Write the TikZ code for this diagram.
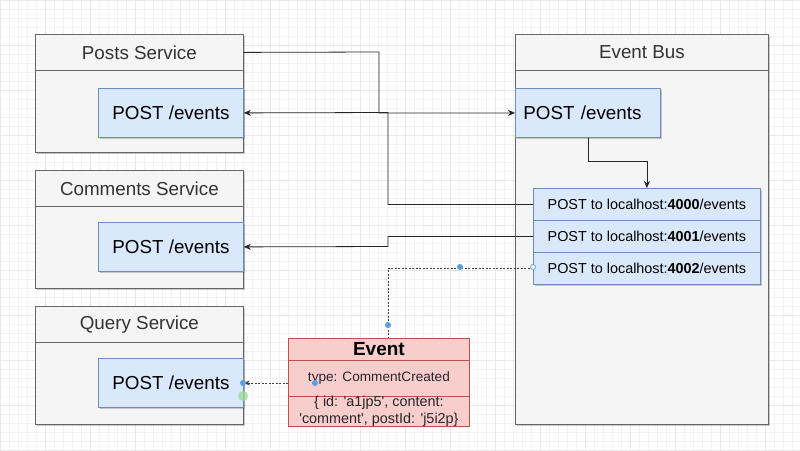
\documentclass[tikz,border=0pt]{standalone}
\usepackage{fontspec}
\setmainfont{Liberation Sans}
\usetikzlibrary{shadows,arrows.meta,calc}
\definecolor{outerfill}{HTML}{F5F5F5}
\definecolor{outerdraw}{HTML}{666666}
\definecolor{innerfill}{HTML}{DAE8FC}
\definecolor{innerdraw}{HTML}{6C8EBF}
\definecolor{evfill}{HTML}{F8CECC}
\definecolor{evdraw}{HTML}{B85450}
\definecolor{gridminor}{HTML}{F3F3F3}
\definecolor{gridmajor}{HTML}{E8E8E8}
\definecolor{selblue}{HTML}{5AA0E0}
\definecolor{selgreen}{HTML}{9ED99A}
\tikzset{
  shadowed/.style={drop shadow={shadow xshift=2pt, shadow yshift=-2pt, fill=black, opacity=0.2}},
  outerbox/.style={draw=outerdraw, fill=outerfill, line width=0.8pt, anchor=north west, inner sep=0pt, shadowed},
  headbox/.style={draw=outerdraw, fill=outerfill, line width=0.8pt, anchor=north west, inner sep=0pt,
     minimum height=36pt, font=\fontsize{18.8}{22}\selectfont, text=black!80},
  innerbox/.style={draw=innerdraw, fill=innerfill, line width=0.8pt, anchor=north west, inner sep=0pt,
     minimum width=145pt, minimum height=49pt, font=\fontsize{18.8}{22}\selectfont, shadowed},
  hostbox/.style={draw=innerdraw, fill=innerfill, line width=0.8pt, anchor=north west, inner sep=0pt,
     minimum width=227pt, minimum height=32pt, font=\fontsize{14.4}{17}\selectfont, shadowed},
  evbox/.style={draw=evdraw, fill=evfill, line width=0.8pt, anchor=north west, inner sep=0pt, minimum width=181pt},
  conn/.style={line width=0.8pt, draw=black!85},
  arr/.style={conn, -{Stealth[length=7pt,width=6pt]}},
  dashconn/.style={line width=0.7pt, draw=black!75, dash pattern=on 2pt off 1.5pt},
  bluedot/.style={circle, fill=selblue, inner sep=0pt, minimum size=6pt},
}
\begin{document}
\begin{tikzpicture}[x=1pt, y=-1pt]
\useasboundingbox (0,0) rectangle (800,450);
\fill[white] (0,0) rectangle (800,450);
% grid
\foreach \gx in {0,9,...,800} \draw[gridminor, line width=0.4pt] (\gx,0) -- (\gx,450);
\foreach \gy in {0,9,...,450} \draw[gridminor, line width=0.4pt] (0,\gy) -- (800,\gy);
\foreach \gx in {0,45,...,800} \draw[gridmajor, line width=0.5pt] (\gx,0) -- (\gx,450);
\foreach \gy in {0,45,...,450} \draw[gridmajor, line width=0.5pt] (0,\gy) -- (800,\gy);

% Posts Service
\node[outerbox, minimum width=208pt, minimum height=118pt] (posts) at (35,34) {};
\node[headbox, minimum width=208pt] (postsH) at (35,34) {Posts Service};
\node[innerbox] (postsPost) at (98,88) {POST /events};

% Comments Service
\node[outerbox, minimum width=208pt, minimum height=118pt] (comments) at (35,170) {};
\node[headbox, minimum width=208pt] (commentsH) at (35,170) {Comments Service};
\node[innerbox] (commentsPost) at (98,222) {POST /events};

% Query Service
\node[outerbox, minimum width=208pt, minimum height=118pt] (query) at (35,306) {};
\node[headbox, minimum width=208pt] (queryH) at (35,306) {Query Service};
\node[innerbox] (queryPost) at (98,358) {POST /events};

% Event Bus
\node[outerbox, minimum width=253pt, minimum height=390pt] (bus) at (515,34) {};
\node[headbox, minimum width=253pt] (busH) at (515,34) {Event Bus};
\node[innerbox, text width=129pt, align=left, inner xsep=8pt] (busPost) at (515,88) {POST /events};
\node[hostbox] (h4000) at (533,188) {POST to localhost:\textbf{4000}/events};
\node[hostbox] (h4001) at (533,220) {POST to localhost:\textbf{4001}/events};
\node[hostbox] (h4002) at (533,252) {POST to localhost:\textbf{4002}/events};

% Event
\node[evbox, minimum height=22pt, font=\fontsize{19}{22}\selectfont\bfseries] (evH) at (288,338) {Event};
\node[evbox, minimum height=36pt, font=\fontsize{13.6}{16}\selectfont, text=black!85] (evType) at (288,360) {type: CommentCreated};
\node[evbox, minimum height=28pt, font=\fontsize{14.4}{14}\selectfont, text=black!85, align=center] (evBody) at (288,396)
  {\raisebox{2pt}{\shortstack{\{ id: \textquotesingle a1jp5\textquotesingle, content:\\[0pt]\textquotesingle comment\textquotesingle, postId: \textquotesingle j5i2p\}}}};

% connectors
\coordinate (j1) at (379,52);
\draw[arr] (postsH.east) -- (j1) |- (busPost.west);
\coordinate (k1) at (388,112.5);
\draw[arr] (h4000.west) -| (k1) -- (postsPost.east);
\draw[arr] (busPost.south) -- ++(0,24) -| (h4000.north);
\coordinate (k3) at (388,246.5);
\draw[arr] (h4001.west) -| (k3) -- (commentsPost.east);
\coordinate (k4) at (388,338);
\draw[dashconn] (h4002.west) -| (k4);
\coordinate (k5) at (288,383);
\draw[dashconn, -{Stealth[length=6pt,width=5pt]}] (k5) -- (queryPost.east |- k5);

% selection marks
\node[bluedot] (d1) at (460,267) {};
\node[bluedot] (d2) at (388,325) {};
\node[bluedot] (d3) at (315,383) {};
\node[bluedot] (d4) at (243,383) {};
\node[circle, draw=selblue, fill=white, line width=0.8pt, inner sep=0pt, minimum size=5pt] (d5) at (533,267) {};
\node[circle, fill=selgreen, inner sep=0pt, minimum size=10pt, opacity=0.8] (d6) at (243,396) {};
\end{tikzpicture}
\end{document}
